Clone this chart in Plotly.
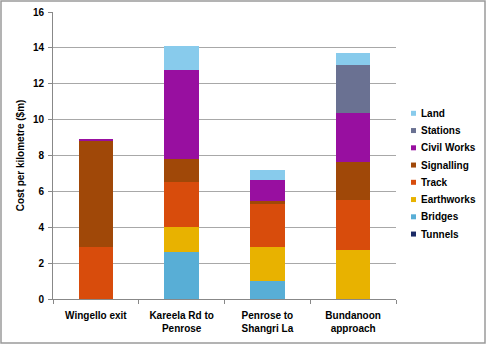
import plotly.graph_objects as go

categories = ["Wingello exit", "Kareela Rd to<br>Penrose", "Penrose to<br>Shangri La", "Bundanoon<br>approach"]
series_names = ["Tunnels", "Bridges", "Earthworks", "Track", "Signalling", "Civil Works", "Stations", "Land"]
tunnels     = [0.0, 0.0, 0.0, 0.0]
bridges     = [0.0, 2.6, 1.0, 0.0]
earthworks  = [0.0, 1.44, 1.9, 2.72]
track       = [2.9, 2.5, 2.45, 2.79]
signalling  = [5.9, 1.24, 0.11, 2.13]
civil_works = [0.13, 4.97, 1.15, 2.71]
stations    = [0.0, 0.0, 0.0, 2.68]
land        = [0.0, 1.38, 0.6, 0.66]
y_ticks = [0, 2, 4, 6, 8, 10, 12, 14, 16]

values = [tunnels, bridges, earthworks, track, signalling, civil_works, stations, land]
colors = ["#1b2a66", "#58aed6", "#e8b200", "#d84c0c", "#a04808", "#980fa0", "#6a7192", "#88cbec"]

fig = go.Figure()
for name, vals, col in zip(series_names, values, colors):
    fig.add_trace(go.Bar(x=categories, y=vals, name=name, marker=dict(color=col, line=dict(width=0)),
                         showlegend=False))

L, R, T, B = 53, 90, 12, 45
W, H = 486, 344
pw, ph = W - L - R, H - T - B
def px(x): return (x - L) / pw
def py(y): return (H - B - y) / ph

shapes = [dict(type="rect", xref="paper", yref="paper", x0=px(1), x1=px(485), y0=py(343), y1=py(1),
               line=dict(color="#9a9a9a", width=1.5), layer="below")]
annotations = []
# manual legend (top item = last series)
for i, (name, col) in enumerate(zip(reversed(series_names), reversed(colors))):
    cy = 113.3 + 17.25 * i
    shapes.append(dict(type="rect", xref="paper", yref="paper", x0=px(411), x1=px(416),
                       y0=py(cy + 2.5), y1=py(cy - 2.5), fillcolor=col, line=dict(width=0)))
    annotations.append(dict(text=name, xref="paper", yref="paper", x=px(418.5), y=py(cy),
                            xanchor="left", yanchor="middle", showarrow=False,
                            font=dict(size=10, color="black", weight="bold")))

fig.update_layout(
    width=W, height=H, barmode="stack", bargap=0.6,
    margin=dict(l=L, r=R, t=T, b=B, autoexpand=False),
    paper_bgcolor="white", plot_bgcolor="white", showlegend=False,
    font=dict(family="Liberation Sans, Arial, sans-serif", size=10, color="black", weight="bold"),
    xaxis=dict(showline=True, linecolor="#888888", linewidth=1, ticks="outside", ticklen=4,
               tickcolor="#888888", tickson="boundaries", showgrid=False, tickfont=dict(size=10),
               ticklabelstandoff=7, automargin=False),
    yaxis=dict(range=[0, 16], tickvals=y_ticks, showline=True, linecolor="#888888", linewidth=1,
               ticks="outside", ticklen=4, tickcolor="#888888", gridcolor="#a8a8a8", gridwidth=1,
               zeroline=False, tickfont=dict(size=10), ticklabelstandoff=2, automargin=False,
               title=dict(text="Cost per kilometre ($m)", font=dict(size=10), standoff=6)),
    shapes=shapes, annotations=annotations,
)

fig.write_html("out.html")
